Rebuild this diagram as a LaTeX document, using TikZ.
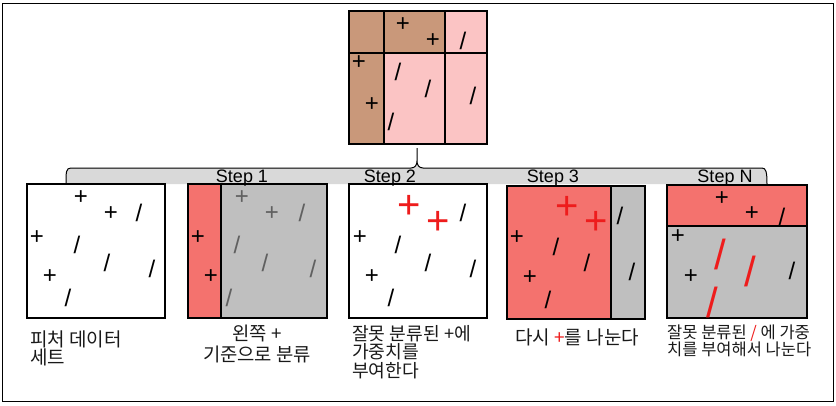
\documentclass[tikz,border=0pt]{standalone}
\usepackage{fontspec}
\setmainfont{Liberation Sans}
\newfontfamily\kr{Noto Sans CJK KR}
\newfontfamily\symf{Liberation Sans}
\definecolor{brownA}{HTML}{C9987A}
\definecolor{pinkA}{HTML}{FBC4C4}
\definecolor{redA}{HTML}{F4726E}
\definecolor{grayA}{HTML}{BFBFBF}
\definecolor{braceA}{HTML}{D9D9D9}
\definecolor{markA}{HTML}{EE1C1C}
\definecolor{dimA}{HTML}{606060}
\begin{document}
\begin{tikzpicture}[x=1pt,y=-1pt,
  frame/.style={draw=black, line width=1.2pt, inner sep=0pt, outer sep=0pt, anchor=north west},
  sm/.style={inner sep=0pt, font=\symf\fontsize{24}{24}\selectfont},
  smg/.style={sm, text=dimA},
  bigp/.style={inner sep=0pt, font=\symf\fontsize{40}{40}\selectfont, text=markA},
  bigs/.style={inner sep=0pt, font=\symf\fontsize{42}{42}\selectfont, text=markA},
  lbl/.style={inner sep=0pt, text=black!90},
  lsz/.style={font=\kr\fontsize{#1}{#1}\selectfont},
  steplbl/.style={inner sep=0pt, font=\fontsize{18}{18}\selectfont, anchor=base}]
\useasboundingbox (0,0) rectangle (836,405);
\draw[line width=1pt] (2.5,3.5) rectangle (833,401.5);

% top box
\fill[brownA] (349,11) rectangle (384,144);
\fill[brownA] (384,11) rectangle (445,53);
\fill[pinkA] (445,11) rectangle (487,53);
\fill[pinkA] (384,53) rectangle (487,144);
\draw[line width=1.2pt] (384,11) -- (384,144) (445,11) -- (445,144) (349,53) -- (487,53);
\node[frame, minimum width=138pt, minimum height=133pt] (top) at (349,11) {};
\foreach \x/\y [count=\i] in {403/25,433/41,359/63,372/105}
  \node[sm] (tp\i) at (\x,\y) {+};
\foreach \x/\y [count=\i] in {463/41,398/72,428/89,473/96,391/122}
  \node[sm] (ts\i) at (\x,\y) {/};

% brace
\coordinate (stem) at (417,148);
\fill[braceA] (66,184) .. controls (66,172) and (66,168) .. (71,168) -- (411,168)
  .. controls (415,168) and (417,165) .. (417,161) -- (stem) -- (417,161)
  .. controls (417,165) and (419,168) .. (423,168) -- (762,168)
  .. controls (766,168) and (767,172) .. (767,184) -- cycle;
\draw[line width=1pt] (66,184) .. controls (66,172) and (66,168) .. (71,168) -- (411,168)
  .. controls (415,168) and (417,165) .. (417,161) -- (stem) -- (417,161)
  .. controls (417,165) and (419,168) .. (423,168) -- (762,168)
  .. controls (766,168) and (767,172) .. (767,184);

% box 1
\fill[white] (27,184) rectangle (165,318);
\node[frame, minimum width=138pt, minimum height=134pt] (b1) at (27,184) {};
\foreach \x/\y [count=\i] in {81/198,111/214,37/238,50/277}
  \node[sm] (ap\i) at (\x,\y) {+};
\foreach \x/\y [count=\i] in {139/213,77/245,107/263,152/269,68/298}
  \node[sm] (as\i) at (\x,\y) {/};

% box 2
\fill[redA] (188,184) rectangle (221,318);
\fill[grayA] (221,184) rectangle (327,318);
\draw[line width=1.2pt] (221,184) -- (221,318);
\node[frame, minimum width=139pt, minimum height=134pt] (b2) at (188,184) {};
\foreach \x/\y [count=\i] in {198/238,211/277}
  \node[sm] (bp\i) at (\x,\y) {+};
\foreach \x/\y [count=\i] in {242/198,272/214}
  \node[smg] (bg\i) at (\x,\y) {+};
\foreach \x/\y [count=\i] in {302/213,237/245,265/263,313/269,229/298}
  \node[smg] (bs\i) at (\x,\y) {/};

% box 3
\fill[white] (349,184) rectangle (487,318);
\node[frame, minimum width=138pt, minimum height=134pt] (b3) at (349,184) {};
\foreach \x/\y [count=\i] in {409/207,438/223}
  \node[bigp] (cr\i) at (\x,\y) {+};
\foreach \x/\y [count=\i] in {360/238,372/277}
  \node[sm] (cp\i) at (\x,\y) {+};
\foreach \x/\y [count=\i] in {463/213,398/245,428/263,473/269,391/298}
  \node[sm] (cs\i) at (\x,\y) {/};

% box 4
\fill[redA] (507,186) rectangle (611,319);
\fill[grayA] (611,186) rectangle (645,319);
\draw[line width=1.2pt] (611,186) -- (611,319);
\node[frame, minimum width=138pt, minimum height=133pt] (b4) at (507,186) {};
\foreach \x/\y [count=\i] in {567/208,596/223}
  \node[bigp] (dr\i) at (\x,\y) {+};
\foreach \x/\y [count=\i] in {517/238,530/278}
  \node[sm] (dp\i) at (\x,\y) {+};
\foreach \x/\y [count=\i] in {556/247,587/263,548/300,620/216,632/272}
  \node[sm] (ds\i) at (\x,\y) {/};

% box 5
\fill[redA] (667,185) rectangle (807,226);
\fill[grayA] (667,226) rectangle (807,318);
\node[frame, minimum width=140pt, minimum height=133pt] (b5) at (667,185) {};
\draw[line width=1.8pt] (667,226) rectangle (807,318);
\foreach \x/\y [count=\i] in {722/199,752/214,678/237,691/277}
  \node[sm] (ep\i) at (\x,\y) {+};
\foreach \x/\y [count=\i] in {782/217,792/271}
  \node[sm] (es\i) at (\x,\y) {/};
\foreach \x/\y [count=\i] in {720/254,750/271,712/302}
  \node[bigs] (er\i) at (\x,\y) {/};

% step labels
\node[steplbl] (s1) at (242,182) {Step 1};
\node[steplbl] (s2) at (390,182) {Step 2};
\node[steplbl] (s3) at (553,182) {Step 3};
\node[steplbl] (sN) at (725,182) {Step N};

% captions
\node[lbl, lsz=19, anchor=base west] (l1a) at (30,346) {피처 데이터};
\node[lbl, lsz=19, anchor=base west] (l1b) at (30,364) {세트};
\node[lbl, lsz=18.8, anchor=base] (l2a) at (257,340) {왼쪽 +};
\node[lbl, lsz=18.8, anchor=base] (l2b) at (257,361) {기준으로 분류};
\node[lbl, lsz=18.2, anchor=base west] (l3a) at (352,340) {잘못 분류된 +에};
\node[lbl, lsz=18.2, anchor=base west] (l3b) at (352,358) {가중치를};
\node[lbl, lsz=18.2, anchor=base west] (l3c) at (352,377) {부여한다};
\node[lbl, lsz=19, anchor=base] (l4) at (577,344) {다시 \textcolor{markA}{+}를 나눈다};
\node[lbl, lsz=16.5, anchor=base west] (l5a) at (667,338) {잘못 분류된 \textcolor{markA}{/} 에 가중};
\node[lbl, lsz=16.5, anchor=base west] (l5b) at (667,355) {치를 부여해서 나눈다};
\end{tikzpicture}
\end{document}
